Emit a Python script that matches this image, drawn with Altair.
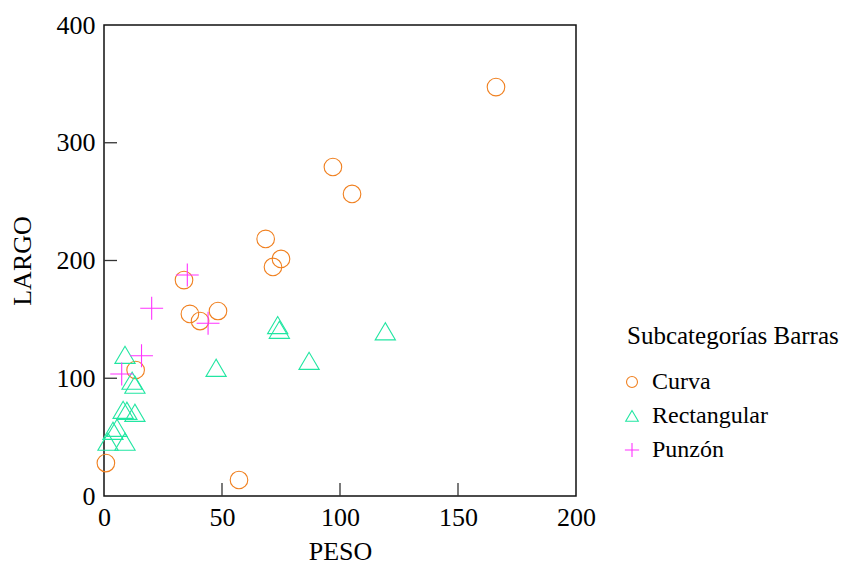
import altair as alt
import pandas as pd

# Curva (circles)
curva_peso = [166.1, 97.0, 105.1, 68.5, 71.6, 75.0, 33.9, 36.4, 40.7, 48.3, 13.4, 0.8, 57.2]
curva_largo = [347.3, 279.4, 256.5, 218.3, 194.5, 201.3, 183.4, 154.6, 148.6, 157.1, 107.0, 28.0, 13.6]

# Rectangular (triangles)
rect_peso = [8.9, 11.9, 13.1, 8.1, 9.7, 13.1, 5.5, 3.8, 8.9, 1.7, 47.5, 73.6, 74.3, 86.9, 119.2]
rect_largo = [119.7, 97.7, 94.3, 73.0, 72.2, 70.5, 57.7, 55.2, 45.9, 45.9, 108.7, 145.0, 141.0, 114.6, 139.7]

# Punzón (plus)
punzon_peso = [35.3, 44.1, 20.2, 15.9, 7.5]
punzon_largo = [187.7, 146.7, 159.4, 119.1, 103.6]

categories = ["Curva", "Rectangular", "Punzón"]
colors = ["#F08020", "#22E6A2", "#FF33FF"]
shapes = ["circle", "M0,-1L-1.15,0.95L1.15,0.95Z", "M-1.3,0L1.3,0M0,-1.3L0,1.3"]

x_ticks = [50, 100, 150]
y_ticks = [100, 200, 300]

rows = []
for p, l in zip(curva_peso, curva_largo):
    rows.append({"PESO": p, "LARGO": l, "Subcategorías Barras": "Curva"})
for p, l in zip(rect_peso, rect_largo):
    rows.append({"PESO": p, "LARGO": l, "Subcategorías Barras": "Rectangular"})
for p, l in zip(punzon_peso, punzon_largo):
    rows.append({"PESO": p, "LARGO": l, "Subcategorías Barras": "Punzón"})
df = pd.DataFrame(rows)

FONT = "Liberation Serif"
W, H = 472, 471

x_enc = alt.X(
    "PESO:Q",
    scale=alt.Scale(domain=[0, 200], nice=False, zero=False),
    axis=alt.Axis(
        values=[0, 50, 100, 150, 200], title="PESO", labelPadding=8, labelFlush=False,
        titleX=W / 2, titleY=55, titleAlign="center", titleBaseline="middle",
    ),
)
y_enc = alt.Y(
    "LARGO:Q",
    scale=alt.Scale(domain=[0, 400], nice=False, zero=False),
    axis=alt.Axis(
        values=[0, 100, 200, 300, 400], title="LARGO", labelPadding=9, labelFlush=False,
        titleX=-82, titleY=H / 2, titleAngle=270, titleAlign="center", titleBaseline="middle",
    ),
)

points = alt.Chart(df).mark_point(filled=False, strokeWidth=1.1, opacity=1, size=310).encode(
    x=x_enc,
    y=y_enc,
    color=alt.Color(
        "Subcategorías Barras:N",
        scale=alt.Scale(domain=categories, range=colors),
        legend=alt.Legend(orient="none", legendX=523, legendY=299),
    ),
    shape=alt.Shape(
        "Subcategorías Barras:N",
        scale=alt.Scale(domain=categories, range=shapes),
    ),
)

ytick_df = pd.DataFrame({"LARGO": y_ticks})
xtick_df = pd.DataFrame({"PESO": x_ticks})

yt = alt.Chart(ytick_df).mark_rule(color="#333333", strokeWidth=1.3).encode(
    y=y_enc, x=alt.value(0), x2=alt.value(13)
)
xt = alt.Chart(xtick_df).mark_rule(color="#333333", strokeWidth=1.3).encode(
    x=x_enc, y=alt.value(H), y2=alt.value(H - 13)
)

chart = (
    alt.layer(points, yt, xt)
    .properties(
        width=W,
        height=H,
        autosize=alt.AutoSizeParams(type="none"),
        padding={"left": 104, "top": 25, "right": 843 - 104 - W, "bottom": 568 - 25 - H},
        background="white",
    )
    .configure_view(stroke="#111111", strokeWidth=1.5)
    .configure_axis(
        domain=False, ticks=False, grid=False,
        labelFont=FONT, labelFontSize=26, labelColor="#000000",
        titleFont=FONT, titleFontSize=26, titleFontWeight="normal", titleColor="#000000",
    )
    .configure_legend(
        titleFont=FONT, titleFontSize=25, titleFontWeight="normal", titleColor="#000000",
        titleLimit=400, labelLimit=400,
        labelFont=FONT, labelFontSize=24, labelColor="#000000",
        symbolSize=120, symbolStrokeWidth=1.1, symbolOffset=-7,
        labelOffset=8, rowPadding=10, titlePadding=21, padding=0,
    )
)

chart.save("out.html", embed_options={"renderer": "svg", "actions": False})
